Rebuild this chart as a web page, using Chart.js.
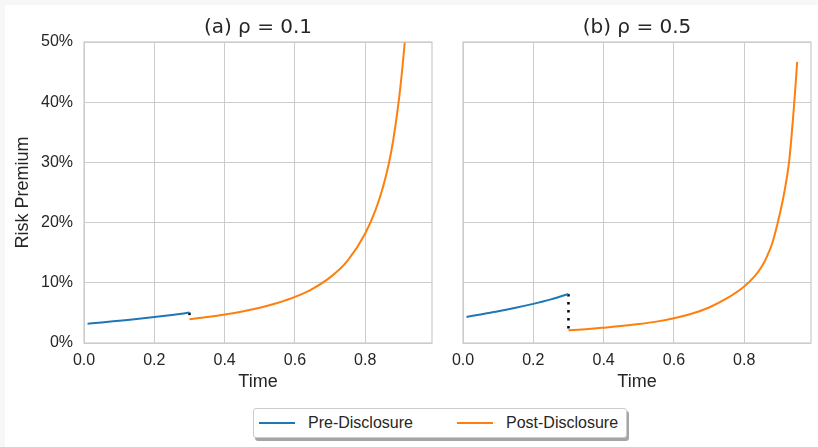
<!DOCTYPE html>
<html>
<head>
<meta charset="utf-8">
<script src="https://cdn.jsdelivr.net/npm/chart.js@4/dist/chart.umd.min.js"></script>
<style>
  body { margin: 0; width: 818px; height: 447px; overflow: hidden; position: relative; background: #f7f7f7; }
  #card { position: absolute; left: 5px; top: 5px; right: 0; bottom: 0; background: #fff; }
  canvas { position: absolute; top: 0; }
  #legend {
    position: absolute; left: 253px; top: 408px; width: 374px; height: 30px; box-sizing: border-box;
    background: #fff; border: 1px solid #cccccc; border-radius: 3px;
    box-shadow: 2px 3px 0 rgba(0, 0, 0, 0.35);
    font-family: Arial, 'Liberation Sans', sans-serif; font-size: 16px; color: #262626;
  }
  #legend .line { position: absolute; top: 13px; width: 36px; height: 2px; }
  #legend .label { position: absolute; top: 5px; line-height: 18px; white-space: nowrap; }
</style>
</head>
<body>
<div id="card"></div>
<canvas id="chartA" width="440" height="400" style="left:0"></canvas>
<canvas id="chartB" width="378" height="400" style="left:440px"></canvas>
<div id="legend">
  <span class="line" style="left:5px; background:#1f77b4"></span>
  <span class="label" style="left:54px">Pre-Disclosure</span>
  <span class="line" style="left:203px; background:#ff7f0e"></span>
  <span class="label" style="left:252px">Post-Disclosure</span>
</div>
<script>
// tick labels
const xTicks = [0, 0.2, 0.4, 0.6, 0.8];
const yTicks = [0, 10, 20, 30, 40, 50];

// (a) rho = 0.1
const preTimeA = [0.01, 0.05, 0.1, 0.15, 0.2, 0.25, 0.3];
const prePremA = [3.2, 3.42, 3.7, 3.98, 4.3, 4.65, 5.05];
const postTimeA = [0.3, 0.35, 0.4, 0.45, 0.5, 0.55, 0.6, 0.65, 0.7, 0.75, 0.8, 0.83, 0.85, 0.8665, 0.88, 0.895, 0.905, 0.912, 0.92];
const postPremA = [3.94, 4.3, 4.74, 5.25, 5.87, 6.65, 7.65, 9.0, 10.9, 13.7, 18.2, 22.2, 25.8, 29.6, 33.8, 40, 45.3, 49.6, 55];

// (b) rho = 0.5
const preTimeB = [0.01, 0.05, 0.1, 0.15, 0.2, 0.25, 0.3];
const prePremB = [4.33, 4.75, 5.27, 5.85, 6.5, 7.25, 8.15];
const postTimeB = [0.3, 0.35, 0.4, 0.45, 0.5, 0.55, 0.6, 0.65, 0.7, 0.75, 0.8, 0.83, 0.85, 0.865, 0.88, 0.8955, 0.91, 0.92, 0.928, 0.935, 0.942, 0.9507];
const postPremB = [2.1, 2.3, 2.55, 2.82, 3.15, 3.55, 4.1, 4.85, 5.9, 7.4, 9.4, 11.1, 12.7, 14.4, 16.6, 20, 23.8, 27.0, 30.3, 34.6, 39.6, 46.7];

const TEXT = '#262626';
const GRID = '#cccccc';
const SANS = "Arial, 'Liberation Sans', sans-serif";

const toPoints = (xs, ys) => xs.map((x, i) => ({ x: x, y: ys[i] }));

// spine box round the plot area
const framePlugin = {
    id: 'frame',
    afterDraw(chart) {
        const { ctx, chartArea: a } = chart;
        ctx.save();
        ctx.strokeStyle = GRID;
        ctx.lineWidth = 1.25;
        ctx.strokeRect(a.left, a.top, a.right - a.left, a.bottom - a.top);
        ctx.restore();
    }
};

function makeChart(id, title, preT, preP, postT, postP, showY, yWidth, padRight) {
    const canvas = document.getElementById(id);
    return new Chart(canvas, {
        type: 'line',
        data: {
            datasets: [
                {
                    label: 'Pre-Disclosure',
                    data: toPoints(preT, preP),
                    borderColor: '#1f77b4',
                    borderWidth: 2,
                    pointRadius: 0,
                    cubicInterpolationMode: 'monotone'
                },
                {
                    label: 'Post-Disclosure',
                    data: toPoints(postT, postP),
                    borderColor: '#ff7f0e',
                    borderWidth: 2,
                    pointRadius: 0,
                    cubicInterpolationMode: 'monotone'
                },
                {
                    label: 'jump',
                    data: [
                        { x: preT[preT.length - 1], y: preP[preP.length - 1] },
                        { x: postT[0], y: postP[0] }
                    ],
                    borderColor: '#000000',
                    borderWidth: 2.5,
                    borderDash: [2.5, 5.5],
                    pointRadius: 0
                }
            ]
        },
        options: {
            responsive: false,
            animation: false,
            layout: { padding: { top: 0, left: 0, right: padRight, bottom: 0 } },
            plugins: {
                legend: { display: false },
                tooltip: { enabled: false }
            },
            scales: {
                x: {
                    type: 'linear',
                    position: 'bottom',
                    min: 0,
                    max: 0.99,
                    afterBuildTicks: s => { s.ticks = xTicks.map(v => ({ value: v })); },
                    afterFit: s => { s.height = 57; },
                    grid: { color: GRID, lineWidth: 1, drawTicks: false },
                    border: { display: false },
                    ticks: {
                        padding: 8,
                        color: TEXT,
                        font: { family: SANS, size: 16 },
                        callback: v => v.toFixed(1)
                    },
                    title: {
                        display: true,
                        text: 'Time',
                        color: TEXT,
                        font: { family: SANS, size: 18 },
                        padding: { top: 0, bottom: 7 }
                    }
                },
                top: {
                    type: 'linear',
                    position: 'top',
                    min: 0,
                    max: 1,
                    afterFit: s => { s.height = 42; },
                    grid: { display: false },
                    border: { display: false },
                    ticks: { display: false },
                    title: {
                        display: true,
                        text: title,
                        color: TEXT,
                        font: { family: "'DejaVu Sans', sans-serif", size: 20, lineHeight: 1.2 },
                        padding: { top: 16, bottom: 2 }
                    }
                },
                y: {
                    type: 'linear',
                    min: 0,
                    max: 50,
                    afterBuildTicks: s => { s.ticks = yTicks.map(v => ({ value: v })); },
                    afterFit: s => { s.width = yWidth; },
                    grid: { color: GRID, lineWidth: 1, drawTicks: false },
                    border: { display: false },
                    ticks: {
                        display: showY,
                        padding: 11,
                        color: TEXT,
                        font: { family: SANS, size: 16 },
                        callback: v => v + '%'
                    },
                    title: {
                        display: showY,
                        text: 'Risk Premium',
                        color: TEXT,
                        font: { family: SANS, size: 18 },
                        padding: { top: 12, bottom: 0 }
                    }
                }
            }
        },
        plugins: [framePlugin]
    });
}

makeChart('chartA', '(a) ρ = 0.1', preTimeA, prePremA, postTimeA, postPremA, true, 84, 8);
makeChart('chartB', '(b) ρ = 0.5', preTimeB, prePremB, postTimeB, postPremB, false, 23, 7);
</script>
</body>
</html>
